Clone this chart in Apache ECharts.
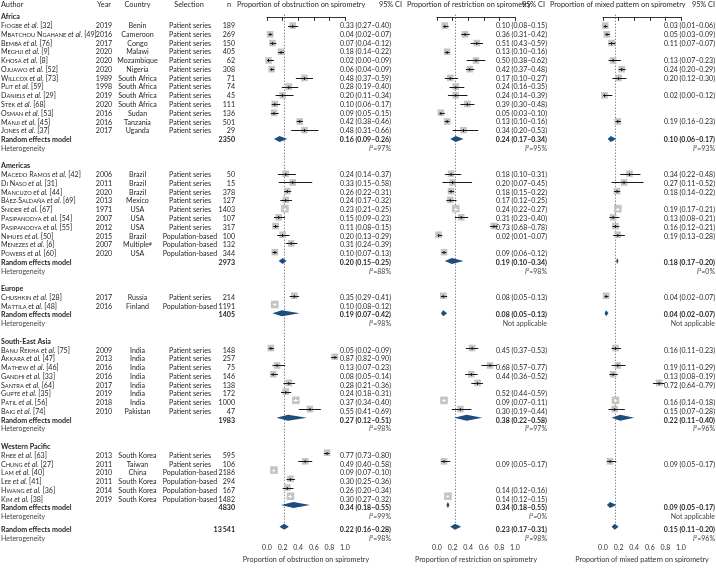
<!DOCTYPE html>
<html><head><meta charset="utf-8">
<script src="https://cdn.jsdelivr.net/npm/echarts/dist/echarts.min.js"></script>
<style>html,body{margin:0;padding:0;background:#fff}#c{width:716px;height:568px}</style>
</head><body><div id="c"></div>
<script>
// ---------------- DATA ----------------
const regions = ['Africa','Americas','Europe','South-East Asia','Western Pacific'];
const regionCounts = [13,10,2,8,6];
const regionN = ['2350','2973','1405','1983','4830'];
const overallN = '13\u2009541';

const authors = ['Fiogbe','Mbatchou Ngahane','Bemba','Meghji','Khosa','Ojuawo','Willcox','Plit','Daniels','Stek','Osman','Manji','Jones',
  'Macedo Ramos','Di Naso','Mancuzo','Báez-Saldaña','Snider','Pasipanodya','Pasipanodya','Nihues','Menezes','Powers',
  'Chushkin','Mattila',
  'Banu Rekha','Akkara','Mathew','Gandhi','Santra','Gupte','Patil','Baig',
  'Rhee','Chung','Lam','Lee','Hwang','Kim'];
const refs = [32,49,76,9,8,52,73,59,29,68,53,45,37, 42,31,44,69,67,54,55,50,6,60, 28,48, 75,47,46,33,64,35,56,74, 63,27,40,41,36,38];
const years = [2019,2016,2017,2020,2020,2020,1989,1998,2019,2020,2016,2016,2017, 2006,2011,2020,2013,1971,2007,2012,2015,2007,2020, 2017,2016, 2009,2013,2016,2016,2017,2019,2018,2010, 2013,2011,2010,2011,2014,2019];
const countries = ['Benin','Cameroon','Congo','Malawi','Mozambique','Nigeria','South Africa','South Africa','South Africa','South Africa','Sudan','Tanzania','Uganda',
  'Brazil','Brazil','Brazil','Mexico','USA','USA','USA','Brazil','Multiple#','USA',
  'Russia','Finland',
  'India','India','India','India','India','India','India','Pakistan',
  'South Korea','Taiwan','China','South Korea','South Korea','South Korea'];
const selections = ['Patient series','Population-based'];
const selIdx = [0,0,0,0,0,0,0,0,0,0,0,0,0, 0,0,0,0,0,0,0,1,1,1, 0,1, 0,0,0,0,0,0,0,0, 0,0,1,1,1,1];
const ns = [189,269,150,405,62,308,71,74,45,111,136,501,29, 50,15,378,127,1403,107,317,100,132,344, 214,1191, 148,257,75,146,138,172,1000,47, 595,106,2186,294,167,1482];

const obsEst = [0.33,0.04,0.07,0.18,0.02,0.06,0.48,0.28,0.20,0.10,0.09,0.42,0.48, 0.24,0.33,0.26,0.24,0.23,0.15,0.11,0.20,0.31,0.10, 0.35,0.10, 0.05,0.87,0.13,0.08,0.28,0.24,0.37,0.55, 0.77,0.49,0.09,0.30,0.26,0.30];
const obsLo  = [0.27,0.02,0.04,0.14,0.00,0.04,0.37,0.19,0.11,0.06,0.05,0.38,0.31, 0.14,0.15,0.22,0.17,0.21,0.09,0.08,0.13,0.24,0.07, 0.29,0.08, 0.02,0.82,0.07,0.05,0.21,0.18,0.34,0.41, 0.73,0.40,0.07,0.25,0.20,0.27];
const obsHi  = [0.40,0.07,0.12,0.22,0.09,0.09,0.59,0.40,0.34,0.17,0.15,0.46,0.66, 0.37,0.58,0.31,0.32,0.25,0.23,0.15,0.29,0.39,0.13, 0.41,0.12, 0.09,0.90,0.23,0.14,0.36,0.31,0.40,0.69, 0.80,0.58,0.10,0.36,0.34,0.32];

const resEst = [0.10,0.36,0.51,0.13,0.50,0.42,0.17,0.24,0.24,0.39,0.05,0.13,0.34, 0.18,0.20,0.18,0.17,0.24,0.31,0.73,0.02,null,0.09, 0.08,null, 0.45,null,0.68,0.44,0.52,null,0.09,0.30, null,0.09,null,null,0.14,0.14];
const resLo  = [0.08,0.31,0.43,0.10,0.38,0.37,0.10,0.16,0.14,0.30,0.03,0.10,0.20, 0.10,0.07,0.15,0.12,0.22,0.23,0.68,0.01,null,0.06, 0.05,null, 0.37,null,0.57,0.36,0.44,null,0.07,0.19, null,0.05,null,null,0.12,0.12];
const resHi  = [0.15,0.42,0.59,0.16,0.62,0.48,0.27,0.35,0.39,0.48,0.10,0.16,0.53, 0.31,0.45,0.22,0.25,0.27,0.40,0.78,0.07,null,0.12, 0.13,null, 0.53,null,0.77,0.52,0.59,null,0.11,0.44, null,0.17,null,null,0.16,0.15];

const mixEst = [0.03,0.05,0.11,null,0.13,0.24,0.20,null,0.02,null,null,0.19,null, 0.34,0.27,0.18,null,0.19,0.13,0.16,0.19,null,null, 0.04,null, 0.16,null,0.19,0.13,0.72,null,0.16,0.15, null,0.09,null,null,null,null];
const mixLo  = [0.01,0.03,0.07,null,0.07,0.20,0.12,null,0.00,null,null,0.16,null, 0.22,0.11,0.14,null,0.17,0.08,0.12,0.13,null,null, 0.02,null, 0.11,null,0.11,0.08,0.64,null,0.14,0.07, null,0.05,null,null,null,null];
const mixHi  = [0.06,0.09,0.16,null,0.23,0.29,0.30,null,0.12,null,null,0.23,null, 0.48,0.52,0.22,null,0.21,0.21,0.21,0.28,null,null, 0.07,null, 0.23,null,0.29,0.19,0.79,null,0.18,0.28, null,0.17,null,null,null,null];

// pooled estimates per region [est, lo, hi] and overall
const obsRem = [[0.16,0.09,0.26],[0.20,0.15,0.25],[0.19,0.07,0.42],[0.27,0.12,0.51],[0.34,0.18,0.55]];
const resRem = [[0.24,0.17,0.34],[0.19,0.10,0.34],[0.08,0.05,0.13],[0.38,0.22,0.58],[0.14,0.12,0.16]];
const mixRem = [[0.10,0.06,0.17],[0.18,0.17,0.20],[0.04,0.02,0.07],[0.22,0.11,0.40],[0.09,0.05,0.17]];
const obsAll = [0.22,0.16,0.28], resAll = [0.23,0.17,0.31], mixAll = [0.15,0.11,0.20];
const obsI2 = ['97%','88%','98%','98%','99%'], obsI2All = '98%';
const resI2 = ['95%','98%',null,'97%','0%'],   resI2All = '98%';
const mixI2 = ['93%','0%',null,'96%',null],     mixI2All = '96%';

// labels printed in the source that differ from the plotted values / markers not drawn in the source
const studyLabelOverride = [{}, {29:'', 30:'0.52 (0.44–0.59)'}, {2:'0.11 (0.07–0.07)'}];
const remLabelOverride = [{}, {4:'0.34 (0.18–0.55)'}, {}];
const noMarker = [[], [37], []];

const titles = ['Proportion of obstruction on spirometry','Proportion of restriction on spirometry','Proportion of mixed pattern on spirometry'];

// ---------------- LAYOUT ----------------
const W = 716, H = 568;
const Y0 = 17, S = 8.77;          // pixel of row 0 and row pitch
const AXIS_Y = 542.5;
const PANEL_LEFT = [267, 437, 603], PANEL_W = 78;
const CIX = [391, 547, 715];
const FONT = 'Lato, "Open Sans", sans-serif';
const FS = 7.1;
const TXT = '#262626';
const HDR = (4.8 - Y0) / S;

const panels = [
  {est: obsEst, lo: obsLo, hi: obsHi, rem: obsRem, all: obsAll, i2: obsI2, i2all: obsI2All},
  {est: resEst, lo: resLo, hi: resHi, rem: resRem, all: resAll, i2: resI2, i2all: resI2All},
  {est: mixEst, lo: mixLo, hi: mixHi, rem: mixRem, all: mixAll, i2: mixI2, i2all: mixI2All}
];

// rows
const rows = [];
let r = 0, si = 0, lastHet = 0;
regions.forEach((name, g) => {
  rows.push({type: 'region', row: r, g});
  for (let k = 0; k < regionCounts[g]; k++) rows.push({type: 'study', row: r + 1 + k, i: si++});
  rows.push({type: 'rem', row: r + regionCounts[g] + 1, g});
  rows.push({type: 'het', row: r + regionCounts[g] + 2, g});
  lastHet = r + regionCounts[g] + 2;
  r += regionCounts[g] + 4;
});
const allRow = lastHet + 1.5, allHetRow = lastHet + 2.5;

// text helpers
const fmt = v => v.toFixed(2);
const ci = (e, l, h) => `${fmt(e)} (${fmt(l)}–${fmt(h)})`;
const N = s => '{n|' + s + '}';
const C = s => '{c|' + s + '}';
const B = s => '{b|' + s + '}';
function authorRich(name, ref) {
  let s = '', start = true;
  for (const ch of name) {
    if (ch === ' ') { s += '{n| }'; start = true; continue; }
    if (ch === '-') { s += '{s|-}'; start = true; continue; }
    if (start) { s += '{n|' + ch + '}'; start = false; }
    else s += '{s|' + ch.toUpperCase() + '}';
  }
  return s + '{it| et al.}{n| [' + ref + ']}';
}
const i2Text = v => v ? '{iti|I}{g|²=' + v + '}' : '{g|Not applicable}';

const textItems = [];
const T = (x, row, text, align) => textItems.push({x, row, text, align});

// header
T(1, HDR, '{h|Author}', 'left');
T(104, HDR, '{h|Year}', 'center');
T(137.5, HDR, '{h|Country}', 'center');
T(189, HDR, '{h|Selection}', 'center');
T(231, HDR, '{h|n}', 'right');
T(237, HDR, '{h|' + titles[0] + '}', 'left');
T(402, HDR, '{h|95% CI}', 'right');
T(407, HDR, '{h|' + titles[1] + '}', 'left');
T(545, HDR, '{h|95% CI}', 'right');
T(550, HDR, '{h|' + titles[2] + '}', 'left');
T(715, HDR, '{h|95% CI}', 'right');

rows.forEach(o => {
  if (o.type === 'region') T(1, o.row, B(regions[o.g]), 'left');
  else if (o.type === 'study') {
    const i = o.i;
    T(1, o.row, authorRich(authors[i], refs[i]), 'left');
    T(104, o.row, N(years[i]), 'center');
    const c = countries[i];
    T(137.5, o.row, c.endsWith('#') ? N(c.slice(0, -1)) + '{sup|#}' : N(c), 'center');
    T(190, o.row, N(selections[selIdx[i]]), 'center');
    T(235, o.row, N(ns[i]), 'right');
    panels.forEach((p, k) => {
      let lab = studyLabelOverride[k][i];
      if (lab === undefined) lab = p.est[i] != null ? ci(p.est[i], p.lo[i], p.hi[i]) : '';
      if (lab) T(CIX[k], o.row, C(lab), 'right');
    });
  } else if (o.type === 'rem') {
    T(1, o.row, B('Random effects model'), 'left');
    T(235, o.row, B(regionN[o.g]), 'right');
    panels.forEach((p, k) => {
      let lab = remLabelOverride[k][o.g];
      if (lab === undefined) lab = ci(...p.rem[o.g]);
      T(CIX[k], o.row, '{cb|' + lab + '}', 'right');
    });
  } else {
    T(1, o.row, '{g|Heterogeneity}', 'left');
    panels.forEach((p, k) => T(CIX[k], o.row, i2Text(p.i2[o.g]), 'right'));
  }
});
T(1, allRow, B('Random effects model'), 'left');
T(235, allRow, B(overallN), 'right');
T(1, allHetRow, '{g|Heterogeneity}', 'left');
panels.forEach((p, k) => {
  T(CIX[k], allRow, '{cb|' + ci(...p.all) + '}', 'right');
  T(CIX[k], allHetRow, i2Text(p.i2all), 'right');
});

const base = {fontFamily: FONT, fill: TXT, verticalAlign: 'bottom'};
const RICH = {
  n:  Object.assign({}, base, {fontSize: FS}),
  c:  Object.assign({}, base, {fontSize: 7}),
  cb: Object.assign({}, base, {fontSize: 7, fontWeight: 'bold'}),
  s:  Object.assign({}, base, {fontSize: FS * 0.8}),
  it: Object.assign({}, base, {fontSize: FS, fontStyle: 'italic'}),
  b:  Object.assign({}, base, {fontSize: FS, fontWeight: 'bold'}),
  g:  Object.assign({}, base, {fontSize: 7, fill: '#444'}),
  iti:Object.assign({}, base, {fontSize: 7, fill: '#444', fontStyle: 'italic'}),
  h:  Object.assign({}, base, {fontSize: 7.3}),
  sup:Object.assign({}, base, {fontSize: FS * 0.7, verticalAlign: 'top'})
};

// ---------------- CHART ----------------
const chart = echarts.init(document.getElementById('c'), null, {renderer: 'canvas', width: W, height: H});
const yRange = (top, h) => ({min: (top - Y0) / S, max: (top + h - Y0) / S});

const grids = [{left: 0, top: 0, width: W, height: H}];
const xAxes = [{gridIndex: 0, type: 'value', min: 0, max: W, show: false}];
const tr = yRange(0, H);
const yAxes = [{gridIndex: 0, type: 'value', inverse: true, min: tr.min, max: tr.max, show: false}];
const series = [];

series.push({
  type: 'custom', xAxisIndex: 0, yAxisIndex: 0, z: 5, silent: true,
  data: textItems.map(t => [t.x, t.row]),
  renderItem(params, api) {
    const t = textItems[params.dataIndex];
    const p = api.coord([t.x, t.row]);
    return {type: 'text', style: {text: t.text, x: p[0], y: p[1], align: t.align, verticalAlign: 'middle', rich: RICH, fill: TXT, fontSize: FS, fontFamily: FONT}};
  }
});

const pr = yRange(0, AXIS_Y);
panels.forEach((p, k) => {
  const gi = k + 1;
  grids.push({left: PANEL_LEFT[k], top: 0, width: PANEL_W, height: AXIS_Y});
  xAxes.push({
    gridIndex: gi, type: 'value', min: 0, max: 1, interval: 0.2,
    axisLine: {show: true, lineStyle: {color: '#333', width: 1}},
    axisTick: {show: true, length: 4, lineStyle: {color: '#333'}},
    axisLabel: {fontSize: 7, color: '#333', margin: 5, fontFamily: FONT, showMinLabel: true, showMaxLabel: true, formatter: v => v.toFixed(1)},
    splitLine: {show: false},
    name: titles[k], nameLocation: 'middle', nameGap: 15,
    nameTextStyle: {fontSize: 7.2, color: '#333', fontFamily: FONT}
  });
  yAxes.push({gridIndex: gi, type: 'value', inverse: true, min: pr.min, max: pr.max, show: false});

  // reference (dotted) line at pooled estimate
  series.push({
    type: 'custom', xAxisIndex: gi, yAxisIndex: gi, z: 1, silent: true,
    data: [[p.all[0], -0.25, allRow + 0.45]],
    renderItem(params, api) {
      const a = api.coord([api.value(0), api.value(1)]);
      const b = api.coord([api.value(0), api.value(2)]);
      const x = Math.round(a[0]) + 0.5;
      return {type: 'line', shape: {x1: x, y1: a[1], x2: x, y2: b[1]}, style: {stroke: '#555', lineWidth: 1, lineDash: [1, 2]}};
    }
  });

  // study markers
  const sdata = [];
  rows.forEach(o => {
    if (o.type === 'study' && p.est[o.i] != null && !noMarker[k].includes(o.i))
      sdata.push([p.est[o.i], o.row, p.lo[o.i], p.hi[o.i], ns[o.i]]);
  });
  series.push({
    type: 'custom', xAxisIndex: gi, yAxisIndex: gi, z: 3, silent: true,
    data: sdata,
    renderItem(params, api) {
      const e = api.value(0), row = api.value(1), lo = api.value(2), hi = api.value(3), n = api.value(4);
      const c = api.coord([e, row]), l = api.coord([lo, row]), h = api.coord([hi, row]);
      const big = n >= 1000;
      const half = big ? 3.8 : 3.3;
      const inside = big && (c[0] - l[0] <= half) && (h[0] - c[0] <= half);
      const y = Math.round(c[1]) + 0.5;
      const col = inside ? '#ffffff' : '#1a1a1a';
      return {type: 'group', children: [
        {type: 'rect', shape: {x: c[0] - half, y: c[1] - half, width: half * 2, height: half * 2}, style: {fill: '#c4c4c4'}},
        {type: 'line', shape: {x1: l[0], y1: y, x2: h[0], y2: y}, style: {stroke: col, lineWidth: 1}},
        {type: 'line', shape: {x1: c[0], y1: y - 1.5, x2: c[0], y2: y + 1.5}, style: {stroke: col, lineWidth: 1}}
      ]};
    }
  });

  // diamonds
  const ddata = [];
  rows.forEach(o => { if (o.type === 'rem') ddata.push([p.rem[o.g][0], o.row, p.rem[o.g][1], p.rem[o.g][2]]); });
  ddata.push([p.all[0], allRow, p.all[1], p.all[2]]);
  series.push({
    type: 'custom', xAxisIndex: gi, yAxisIndex: gi, z: 4, silent: true,
    data: ddata,
    renderItem(params, api) {
      const row = api.value(1);
      const c = api.coord([api.value(0), row]), l = api.coord([api.value(2), row]), h = api.coord([api.value(3), row]);
      const hh = 3;
      return {type: 'polygon', shape: {points: [[l[0], c[1]], [c[0], c[1] - hh], [h[0], c[1]], [c[0], c[1] + hh]]}, style: {fill: '#1b4e7e'}};
    }
  });
});

chart.setOption({animation: false, backgroundColor: '#fff', grid: grids, xAxis: xAxes, yAxis: yAxes, series});
</script></body></html>
